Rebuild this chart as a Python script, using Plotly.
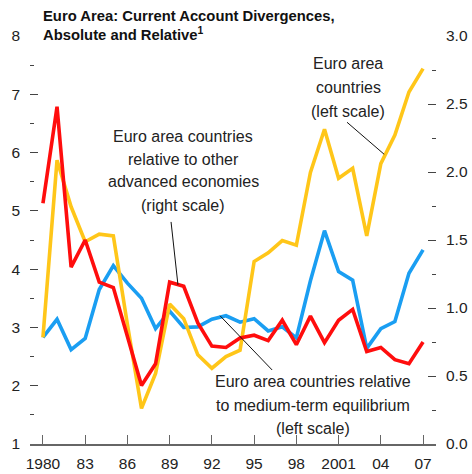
import plotly.graph_objects as go

# ---- data ----
years = list(range(1980, 2008))

# Euro area countries (left scale) - yellow
euro_area = [2.83, 5.87, 5.07, 4.47, 4.60, 4.57, 3.05, 1.61, 2.21, 3.40,
             3.15, 2.53, 2.30, 2.50, 2.61, 4.13, 4.28, 4.49, 4.41, 5.66,
             6.40, 5.56, 5.73, 4.57, 5.81, 6.30, 7.04, 7.44]

# Euro area countries relative to medium-term equilibrium (left scale) - blue
rel_medium = [2.83, 3.14, 2.62, 2.81, 3.65, 4.06, 3.76, 3.50, 2.98, 3.28,
              3.00, 3.01, 3.14, 3.20, 3.09, 3.15, 2.94, 3.01, 2.82, 3.80,
              4.66, 3.96, 3.81, 2.64, 2.98, 3.10, 3.93, 4.33]

# Euro area countries relative to other advanced economies (right scale) - red
rel_advanced = [1.77, 2.48, 1.30, 1.50, 1.19, 1.15, 0.79, 0.43, 0.59, 1.19,
                1.16, 0.89, 0.72, 0.71, 0.78, 0.80, 0.76, 0.91, 0.73, 0.94,
                0.745, 0.91, 0.99, 0.68, 0.71, 0.62, 0.59, 0.75]

xtick_vals = [1980, 1983, 1986, 1989, 1992, 1995, 1998, 2001, 2004, 2007]
xtick_text = ["1980", "83", "86", "89", "92", "95", "98", "2001", "04", "07"]

title_lines = ["Euro Area: Current Account Divergences,",
               "Absolute and Relative<sup>1</sup>"]
label_euro = ["Euro area", "countries", "(left scale)"]
label_adv = ["Euro area countries", "relative to other", "advanced economies",
             "(right scale)"]
label_med = ["Euro area countries relative", "to medium-term equilibrium",
             "(left scale)"]

FONT = "Liberation Sans, Arial, Helvetica, sans-serif"
RED = "#ff0d0d"
YELLOW = "#ffc619"
BLUE = "#1a9ef2"
TICK = "#444444"

fig = go.Figure()
fig.add_trace(go.Scatter(x=years, y=rel_advanced, yaxis="y2", mode="lines",
                         line=dict(color=RED, width=3.6), hoverinfo="skip"))
fig.add_trace(go.Scatter(x=years, y=rel_medium, mode="lines",
                         line=dict(color=BLUE, width=3.6), hoverinfo="skip"))
fig.add_trace(go.Scatter(x=years, y=euro_area, mode="lines",
                         line=dict(color=YELLOW, width=3.6), hoverinfo="skip"))

# plot area in pixels: x 30..436, y 36..444
L, R, T, B = 30, 436, 36, 444


def px(xp):
    return (xp - L) / (R - L)


def py(yp):
    return (B - yp) / (B - T)


annotations = [
    dict(text="<b>" + title_lines[0] + "</b>", x=px(41), y=py(16),
         xanchor="left", yanchor="middle", font=dict(size=14.8, color="#111")),
    dict(text="<b>" + title_lines[1] + "</b>", x=px(41), y=py(44.5),
         xanchor="left", yanchor="bottom", font=dict(size=14.8, color="#111")),
]


def block(lines, xc, ycs):
    for t, yc in zip(lines, ycs):
        annotations.append(dict(text=t, x=px(xc), y=py(yc), xanchor="center",
                                yanchor="middle", font=dict(size=16, color="#222")))


block(label_euro, 348, [64, 87.5, 111])
block(label_adv, 183, [136, 159, 182, 205])
block(label_med, 313, [381.5, 405, 428.5])

for a in annotations:
    a.update(xref="paper", yref="paper", showarrow=False)
    a["font"]["family"] = FONT

# leader lines (data coordinates of the left axis)
leaders = [
    (2001.6, 6.52, 2004.24, 5.97),
    (1989.10, 4.81, 1989.59, 3.73),
    (1996.28, 2.27, 1992.58, 3.20),
]
shapes = [dict(type="line", xref="x", yref="y", x0=a, y0=b, x1=c, y1=d,
               line=dict(color="#111", width=1)) for a, b, c, d in leaders]

tickfont = dict(family=FONT, size=15.5, color="#222")

fig.update_layout(
    width=472, height=474,
    margin=dict(l=L, r=472 - R, t=T, b=474 - B, pad=0, autoexpand=False),
    plot_bgcolor="white", paper_bgcolor="white",
    showlegend=False,
    annotations=annotations,
    shapes=shapes,
    xaxis=dict(range=[1979.08, 2007.92], tickvals=xtick_vals, ticktext=xtick_text,
               ticks="inside", ticklen=9, tickwidth=1.2, tickcolor="#666",
               showline=True, linecolor="#666", linewidth=1.5,
               showgrid=False, zeroline=False, tickfont=tickfont,
               ticklabelstandoff=5, automargin=False),
    yaxis=dict(range=[1, 8], tick0=1, dtick=1, ticks="inside", ticklen=8,
               tickwidth=1.3, tickcolor=TICK,
               minor=dict(ticks="inside", ticklen=4, dtick=0.5, tick0=1,
                          tickcolor=TICK, tickwidth=1.3, showgrid=False),
               showline=False, showgrid=False, zeroline=False,
               tickfont=tickfont, ticklabelstandoff=9, automargin=False),
    yaxis2=dict(range=[0, 3], tick0=0, dtick=0.5, tickformat=".1f",
                overlaying="y", side="right", ticks="inside", ticklen=8,
                tickwidth=1.3, tickcolor=TICK,
                minor=dict(ticks="inside", ticklen=4, dtick=0.25, tick0=0,
                           tickcolor=TICK, tickwidth=1.3, showgrid=False),
                showline=False, showgrid=False, zeroline=False,
                tickfont=tickfont, ticklabelstandoff=9, automargin=False),
)

fig.write_html("out.html", config={"displayModeBar": False},
               post_script="document.body.style.margin='0';")
